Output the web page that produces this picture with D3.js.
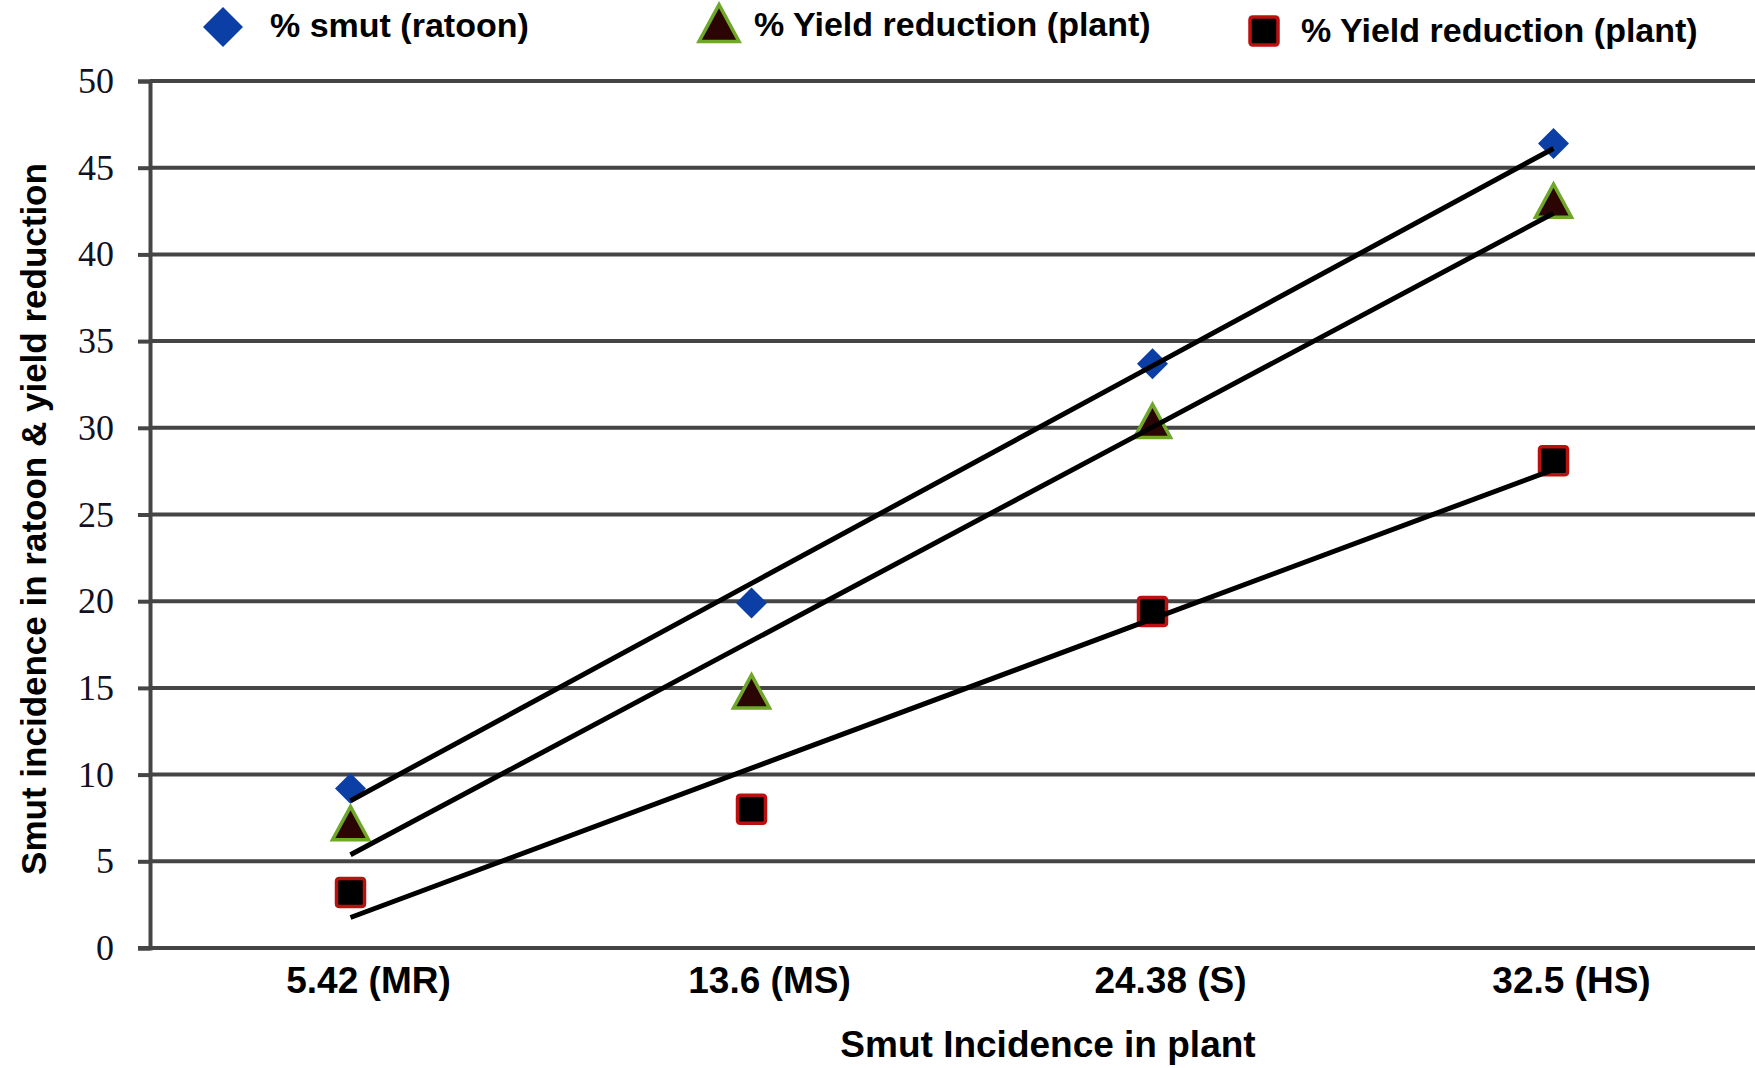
<!DOCTYPE html>
<html>
<head>
<meta charset="utf-8">
<script src="https://cdn.jsdelivr.net/npm/d3@7/dist/d3.min.js"></script>
<style>
    body { margin: 0; background: #fff; }
</style>
</head>
<body>
<div id="chart"></div>
<script>
// Data
const categories = ["5.42 (MR)", "13.6 (MS)", "24.38 (S)", "32.5 (HS)"];
const smutRatoon = [9.2, 19.9, 33.7, 46.4];
const yieldTriangle = [7.2, 14.8, 30.4, 43.1];
const yieldSquare = [3.2, 8.0, 19.4, 28.1];
const yTicks = [0, 5, 10, 15, 20, 25, 30, 35, 40, 45, 50];
const legendLabels = ["% smut (ratoon)", "% Yield reduction (plant)", "% Yield reduction (plant)"];

const width = 1755, height = 1068;
const sansFont = "'Liberation Sans', Arial, sans-serif";
const serifFont = "'Liberation Serif', 'Times New Roman', serif";
const gridColor = "#454545";

// Excel style markers (centered on bounding box)
const diamondType = {
    draw(ctx, size) {
        const r = Math.sqrt(size) / 2;
        ctx.moveTo(0, -r); ctx.lineTo(r, 0); ctx.lineTo(0, r); ctx.lineTo(-r, 0); ctx.closePath();
    }
};
const triangleType = {
    draw(ctx, size) {
        const w = Math.sqrt(size) / 2, h = w * 0.92;
        ctx.moveTo(0, -h); ctx.lineTo(w, h); ctx.lineTo(-w, h); ctx.closePath();
    }
};
const squareType = {
    draw(ctx, size) {
        const r = Math.sqrt(size) / 2, c = 3;
        ctx.moveTo(-r + c, -r); ctx.lineTo(r - c, -r); ctx.quadraticCurveTo(r, -r, r, -r + c);
        ctx.lineTo(r, r - c); ctx.quadraticCurveTo(r, r, r - c, r);
        ctx.lineTo(-r + c, r); ctx.quadraticCurveTo(-r, r, -r, r - c);
        ctx.lineTo(-r, -r + c); ctx.quadraticCurveTo(-r, -r, -r + c, -r); ctx.closePath();
    }
};

const series = [
    { values: smutRatoon, type: diamondType, size: 31 * 31, legendSize: 40 * 40, fill: "#0b3fa6", stroke: "none", sw: 0 },
    { values: yieldTriangle, type: triangleType, size: 36 * 36, legendSize: 40 * 40, fill: "#2b0404", stroke: "#6fa829", sw: 3.5 },
    { values: yieldSquare, type: squareType, size: 28 * 28, legendSize: 28 * 28, fill: "#000", stroke: "#bb1010", sw: 3.5 }
];

// least squares line over category index, like an Excel linear trendline
function trend(values) {
    const n = values.length;
    const xs = d3.range(1, n + 1);
    const mx = d3.mean(xs), my = d3.mean(values);
    const slope = d3.sum(xs, (x, i) => (x - mx) * (values[i] - my)) / d3.sum(xs, x => (x - mx) ** 2);
    return xs.map(x => my + slope * (x - mx));
}

const svg = d3.select("#chart").append("svg")
    .attr("width", width)
    .attr("height", height)
    .style("background", "#fff");

const x = d3.scaleBand().domain(categories).range([150, 1754]);
const y = d3.scaleLinear().domain([0, 50]).range([948, 81]);
const cx = c => x(c) + x.bandwidth() / 2;

// Gridlines
svg.append("g")
    .selectAll("line")
    .data(yTicks)
    .enter().append("line")
    .attr("x1", 150)
    .attr("x2", width)
    .attr("y1", d => y(d))
    .attr("y2", d => y(d))
    .style("stroke", gridColor)
    .style("stroke-width", 4);

// Y axis
const yAxis = svg.append("g")
    .attr("transform", "translate(150,0)")
    .call(d3.axisLeft(y).tickValues(yTicks).tickSize(12).tickPadding(24));
yAxis.select(".domain").style("stroke", gridColor).style("stroke-width", 4);
yAxis.selectAll(".tick line").style("stroke", gridColor).style("stroke-width", 4);
yAxis.selectAll(".tick text")
    .style("font-family", serifFont)
    .style("font-size", "36px")
    .style("fill", "#111122");

// X axis
const xAxis = svg.append("g")
    .attr("transform", "translate(0,948)")
    .call(d3.axisBottom(x).tickSize(0));
xAxis.select(".domain").remove();
xAxis.selectAll(".tick text")
    .attr("x", 18)
    .attr("y", 45)
    .attr("dy", null)
    .style("font-family", sansFont)
    .style("font-weight", "bold")
    .style("font-size", "37px")
    .style("fill", "#000");
svg.append("line")
    .attr("x1", 138).attr("x2", width)
    .attr("y1", y(0)).attr("y2", y(0))
    .style("stroke", gridColor)
    .style("stroke-width", 4);

// Markers
series.forEach(s => {
    svg.append("g")
        .selectAll("path")
        .data(s.values)
        .enter().append("path")
        .attr("transform", (d, i) => `translate(${cx(categories[i])},${y(d)})`)
        .attr("d", d3.symbol().type(s.type).size(s.size))
        .style("fill", s.fill)
        .style("stroke", s.stroke)
        .style("stroke-width", s.sw);
});

// Trend lines on top of the markers
const line = d3.line()
    .x((d, i) => cx(categories[i]))
    .y(d => y(d));
series.forEach(s => {
    svg.append("path")
        .datum(trend(s.values))
        .attr("d", line)
        .style("fill", "none")
        .style("stroke", "#000")
        .style("stroke-width", 5);
});

// Legend
const legendPos = [
    { mx: 223, my: 27, tx: 270, ty: 37 },
    { mx: 719, my: 23, tx: 754, ty: 36 },
    { mx: 1264, my: 31, tx: 1301, ty: 42 }
];
series.forEach((s, i) => {
    const p = legendPos[i];
    svg.append("path")
        .attr("transform", `translate(${p.mx},${p.my})`)
        .attr("d", d3.symbol().type(s.type).size(s.legendSize))
        .style("fill", s.fill)
        .style("stroke", s.stroke)
        .style("stroke-width", s.sw);
    svg.append("text")
        .attr("x", p.tx)
        .attr("y", p.ty)
        .text(legendLabels[i])
        .style("font-family", sansFont)
        .style("font-weight", "bold")
        .style("font-size", "34px")
        .style("fill", "#000");
});

// Axis titles
svg.append("text")
    .attr("x", 1048)
    .attr("y", 1057)
    .attr("text-anchor", "middle")
    .text("Smut Incidence in plant")
    .style("font-family", sansFont)
    .style("font-weight", "bold")
    .style("font-size", "37px");

svg.append("text")
    .attr("transform", "translate(46,519) rotate(-90)")
    .attr("text-anchor", "middle")
    .text("Smut incidence in ratoon & yield reduction")
    .style("font-family", sansFont)
    .style("font-weight", "bold")
    .style("font-size", "35px");
</script>
</body>
</html>
